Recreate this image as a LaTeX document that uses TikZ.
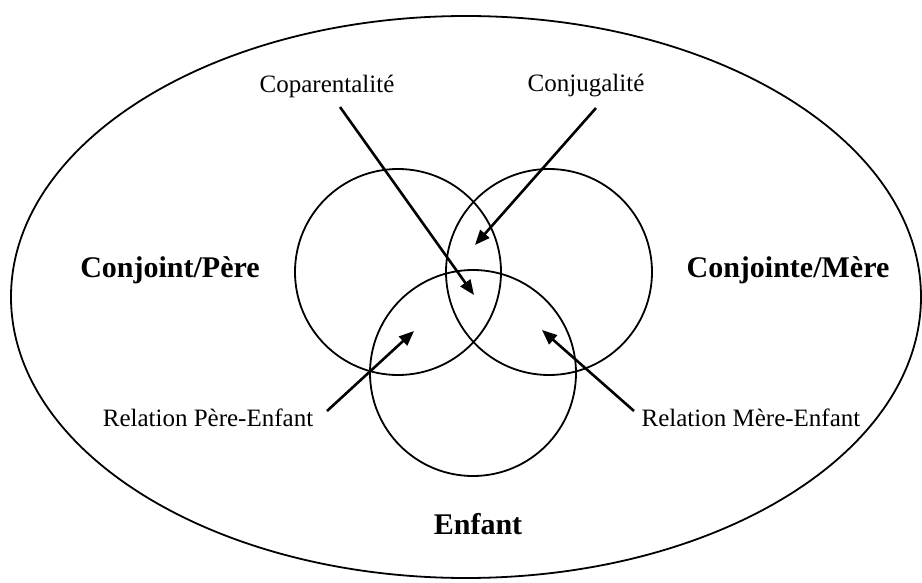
\documentclass[tikz,border=0pt]{standalone}
\usepackage{fontspec}
\setmainfont{Liberation Serif}
\usetikzlibrary{arrows.meta}

\begin{document}
\begin{tikzpicture}[x=1pt, y=-1pt,
    cercle/.style={line width=1.8pt},
    fleche/.style={line width=2.6pt, -{Triangle[length=15pt,width=12pt]}},
    petit/.style={font=\fontsize{25}{30}\selectfont},
    gros/.style={font=\fontsize{30}{36}\selectfont\bfseries}]
        \useasboundingbox (0,0) rectangle (922,583);

        % la famille : grande ellipse
        \draw[cercle] (466,297) ellipse [x radius=455, y radius=281];

        % les trois cercles
        \draw[cercle] (398,272) circle (103);
        \draw[cercle] (549,272) circle (103);
        \draw[cercle] (473,373) circle (103);

        % les membres
        \node[gros] (pere) at (170,270) {Conjoint/Père};
        \node[gros] (mere) at (788,270) {Conjointe/Mère};
        \node[gros] (enfant) at (478,524) {Enfant};

        % les relations
        \node[petit] (copa) at (327,86) {Coparentalité};
        \node[petit] (conj) at (586,86) {Conjugalité};
        \node[petit] (relpere) at (208,418) {Relation Père-Enfant};
        \node[petit] (relmere) at (751,418) {Relation Mère-Enfant};

        % pointes des flèches dans les intersections
        \coordinate (dcopa) at (340,107);
        \coordinate (acopa) at (474,295);
        \coordinate (dconj) at (596,108);
        \coordinate (aconj) at (475,245);
        \coordinate (drelpere) at (327,411);
        \coordinate (arelpere) at (414,331);
        \coordinate (drelmere) at (634,411);
        \coordinate (arelmere) at (542,330);

        \draw[fleche] (dcopa) -- (acopa);
        \draw[fleche] (dconj) -- (aconj);
        \draw[fleche] (drelpere) -- (arelpere);
        \draw[fleche] (drelmere) -- (arelmere);
    \end{tikzpicture}
\end{document}
